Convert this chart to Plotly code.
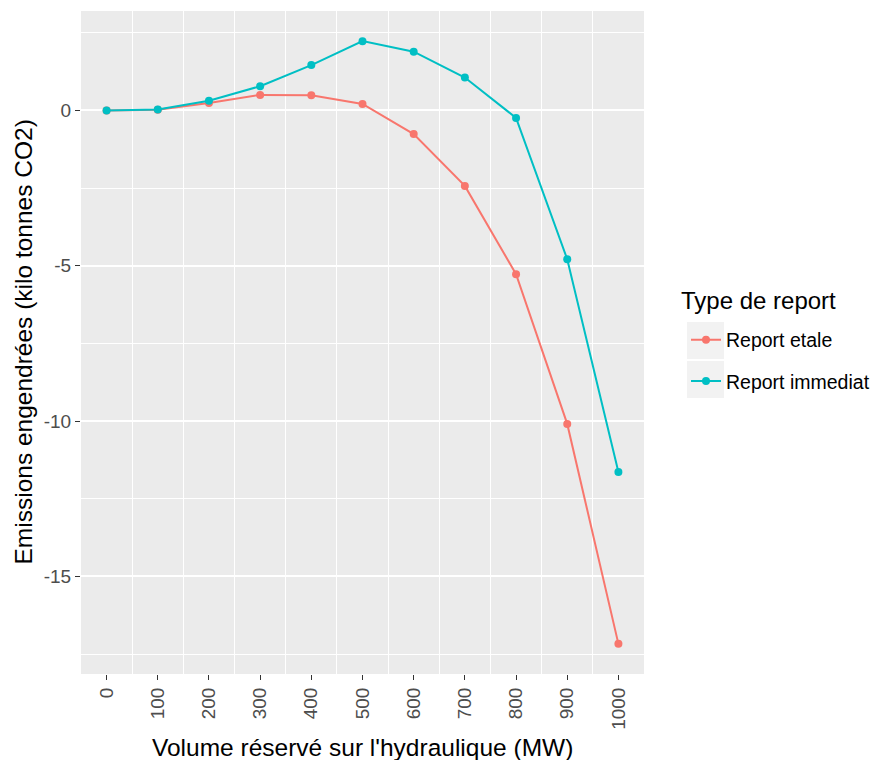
import plotly.graph_objects as go

volume = [0, 100, 200, 300, 400, 500, 600, 700, 800, 900, 1000]
report_etale = [0.0, 0.02, 0.24, 0.50, 0.49, 0.21, -0.76, -2.43, -5.27, -10.09, -17.17]
report_immediat = [0.0, 0.03, 0.31, 0.78, 1.46, 2.23, 1.89, 1.06, -0.24, -4.79, -11.64]
x_ticks = [str(v) for v in volume]
y_ticks = [0, -5, -10, -15]
y_tick_labels = ["0", "-5", "-10", "-15"]

RED = "#F8766D"
CYAN = "#00BFC4"
FONT = "Liberation Sans, Arial, sans-serif"

# page has an 8px body margin; figure is sized/offset to compensate
OFF = 8
W, H = 878 - OFF, 760 - OFF
L, T = 81 - OFF, 11 - OFF
PW, PH = 644 - 81, 674 - 11
R = W - L - PW
B = H - T - PH

def px(xpage):
    return (xpage - OFF - L) / PW

def py(ypage):
    return 1 - (ypage - OFF - T) / PH

fig = go.Figure()
fig.add_trace(go.Scatter(x=volume, y=report_etale, mode="lines+markers", name="Report etale",
                         line=dict(color=RED, width=2), marker=dict(color=RED, size=8),
                         legendgroup="a"))
fig.add_trace(go.Scatter(x=volume, y=report_immediat, mode="lines+markers", name="Report immediat",
                         line=dict(color=CYAN, width=2), marker=dict(color=CYAN, size=8),
                         legendgroup="b"))

allv = report_etale + report_immediat
lo, hi = min(allv), max(allv)
pad = 0.05 * (hi - lo)
xpad = 0.05 * (max(volume) - min(volume))

# legend key backgrounds
shapes = []
for y0 in (322, 361):
    shapes.append(dict(type="rect", xref="paper", yref="paper",
                       x0=px(687), x1=px(724), y0=py(y0 + 37), y1=py(y0),
                       fillcolor="#F2F2F2", line=dict(width=0), layer="below"))

annotations = [
    dict(text="Volume réservé sur l'hydraulique (MW)", xref="paper", yref="paper",
         x=0.5, y=py(747), xanchor="center", yanchor="middle", showarrow=False,
         font=dict(size=24.5, color="black")),
    dict(text="Emissions engendrées (kilo tonnes CO2)", xref="paper", yref="paper",
         x=px(23), y=0.5, xanchor="center", yanchor="middle", showarrow=False, textangle=-90,
         font=dict(size=24.5, color="black")),
    dict(text="Type de report", xref="paper", yref="paper",
         x=px(679), y=py(300), xanchor="left", yanchor="middle", showarrow=False,
         font=dict(size=24, color="black")),
]

fig.update_layout(
    width=W, height=H,
    margin=dict(l=L, r=R, t=T, b=B, pad=0, autoexpand=False),
    paper_bgcolor="white", plot_bgcolor="#EBEBEB",
    font=dict(family=FONT, color="black"),
    showlegend=True,
    shapes=shapes,
    annotations=annotations,
    legend=dict(
        font=dict(size=19.5, color="black"),
        x=px(686), xanchor="left", y=py(320.5), yanchor="top",
        tracegroupgap=13, bgcolor="rgba(0,0,0,0)",
    ),
    xaxis=dict(
        range=[min(volume) - xpad, max(volume) + xpad], automargin=False,
        tickmode="array", tickvals=volume, ticktext=x_ticks, tickangle=-90,
        tickfont=dict(size=19, color="#4D4D4D"),
        ticks="outside", ticklen=5, tickcolor="#333333", tickwidth=1,
        showgrid=False, zeroline=False, showline=False,
        minor=dict(tick0=50, dtick=100, showgrid=True, gridcolor="white", gridwidth=1, ticks=""),
    ),
    yaxis=dict(
        range=[lo - pad, hi + pad], automargin=False,
        tickmode="array", tickvals=y_ticks, ticktext=y_tick_labels,
        tickfont=dict(size=19, color="#4D4D4D"),
        ticks="outside", ticklen=5, tickcolor="#333333", tickwidth=1,
        showgrid=True, gridcolor="white", gridwidth=2, zeroline=False, showline=False,
        minor=dict(tick0=2.5, dtick=5, showgrid=True, gridcolor="white", gridwidth=1, ticks=""),
    ),
)

fig.write_html("out.html")
